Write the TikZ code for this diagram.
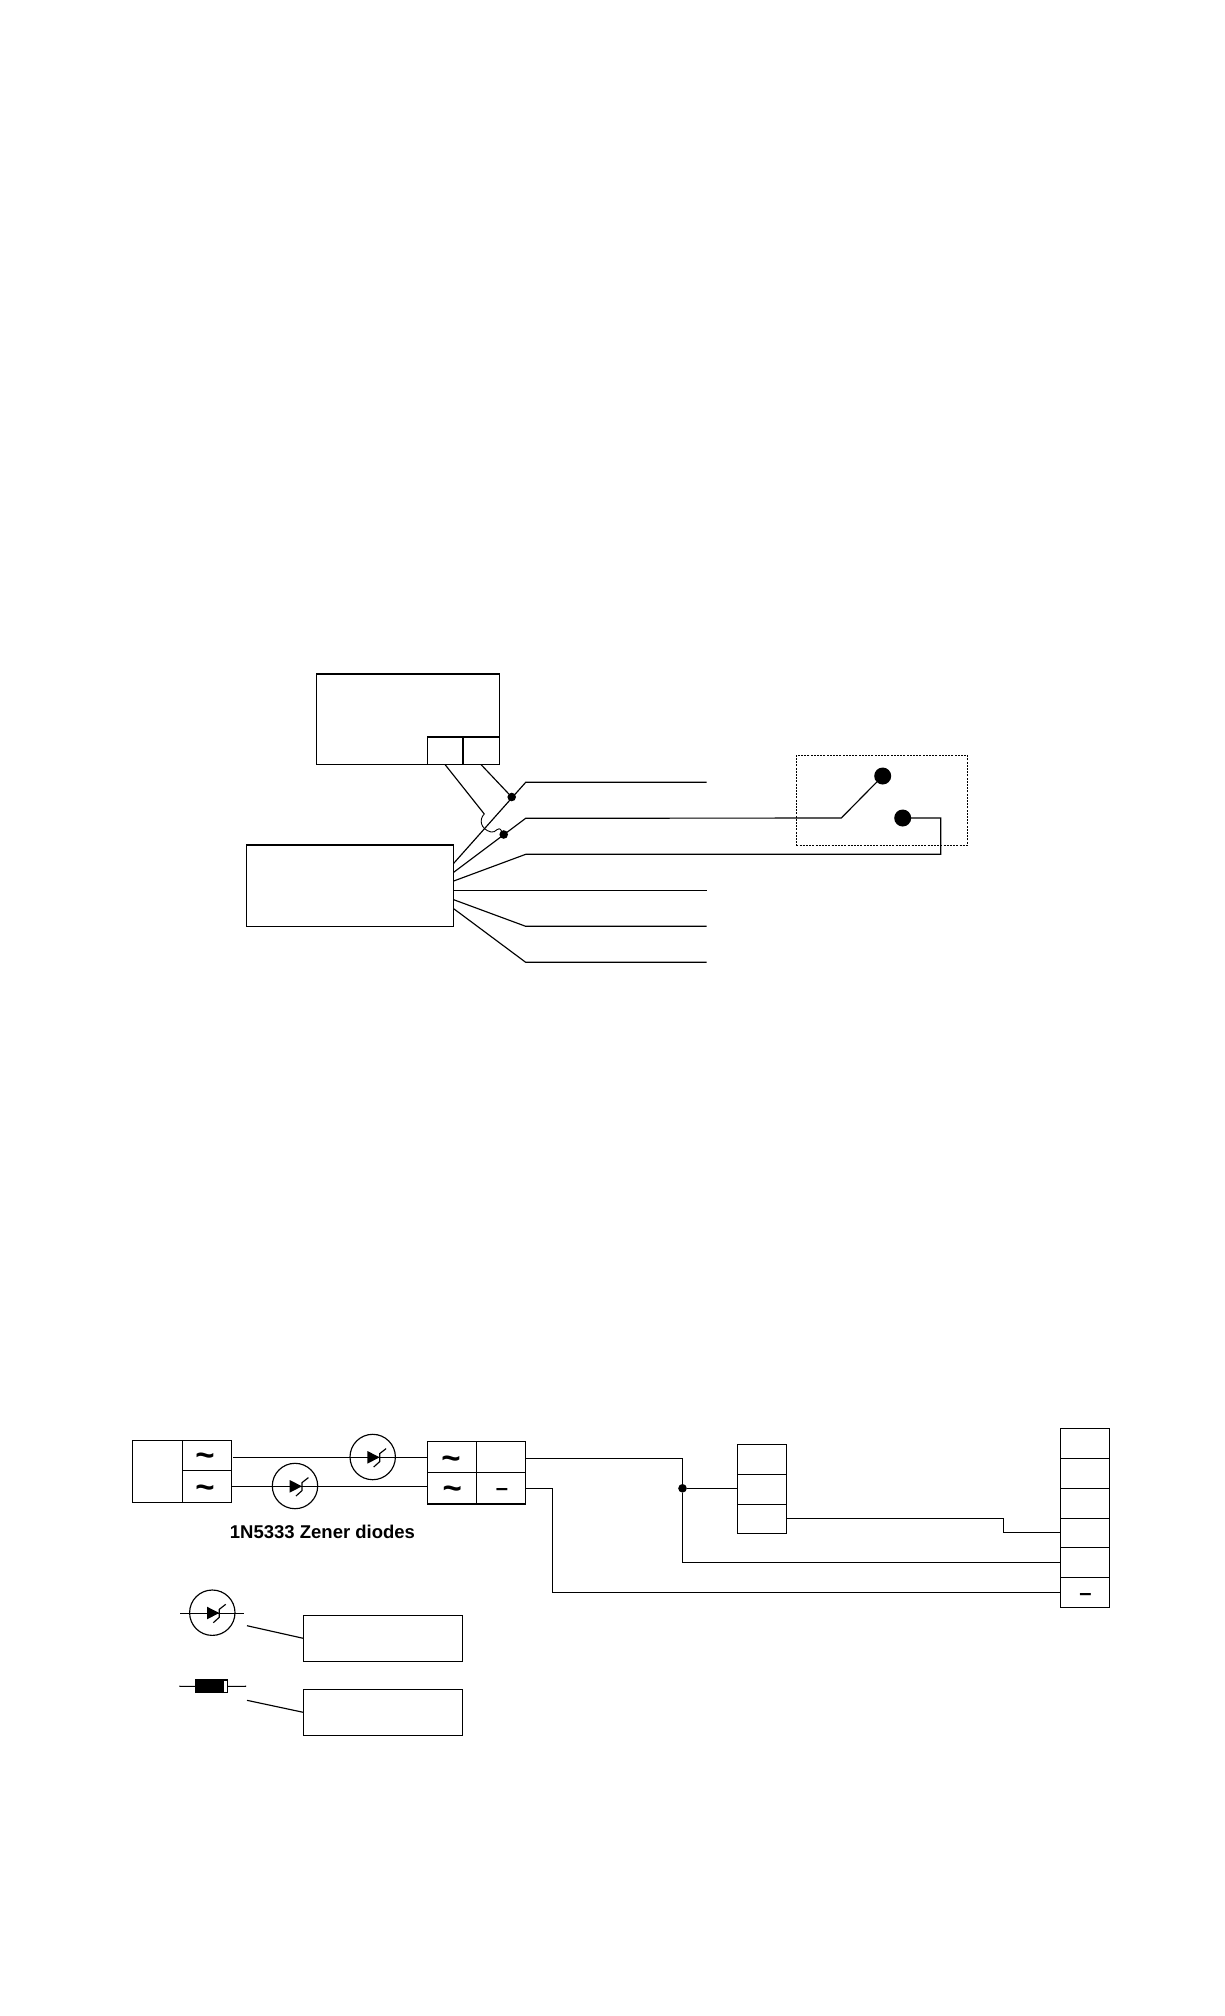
\documentclass[tikz,border=0pt]{standalone}
\usepackage{fontspec}
\setmainfont{Liberation Sans}
\tikzset{
    box/.style={draw, rectangle, inner sep=0pt, outer sep=0pt, anchor=north west},
    cellw/.style={box, minimum width=49pt, minimum height=#1},
    acsign/.style={font=\fontsize{33}{33}\selectfont\bfseries, inner sep=0pt},
    minussign/.style={font=\fontsize{22}{22}\selectfont\bfseries, inner sep=0pt},
    joint/.style={circle, fill=black, inner sep=0pt, outer sep=0pt, minimum size=8.6pt},
    contact/.style={circle, fill=black, inner sep=0pt, outer sep=0pt, minimum size=17pt},
    zener/.pic={
        \node[draw, circle, inner sep=0pt, minimum size=45.4pt] (-ring) at (0,0) {};
        \fill (-5.3,-6) -- (-5.3,6.6) -- (7,.3) -- cycle;
        \draw (13.4,-8.4) -- (7,-3.4) -- (7,4.6) -- (1,10);
    }
}
\begin{document}
\begin{tikzpicture}[x=1pt, y=-1pt, line width=1.15pt]
    \useasboundingbox (0,0) rectangle (1224,2016);
    % upper drawing
    \node[box, minimum width=183pt, minimum height=90.7pt] (unit) at (316.3,674) {};
    \node[box, minimum width=35.7pt, minimum height=27.7pt] (sock1) at (427.3,737) {};
    \node[box, minimum width=36.3pt, minimum height=27.7pt] (sock2) at (463,737) {};
    \node[box, minimum width=207pt, minimum height=81.3pt] (harness) at (246.7,845) {};
    \foreach \ys/\ye [count=\i] in {863.3/782.3,872.3/818.3,881/854.3,890.3/890.3,899.7/926.3,908.7/962.3}
    {
        \coordinate (out\i) at (453.7,\ys);
        \coordinate (bend\i) at (525.7,\ye);
        \coordinate (end\i) at (706.7,\ye);
    }
    \node[joint] (tie1) at (511.7,797) {};
    \node[joint] (tie2) at (503.7,834.5) {};
    \coordinate (hop) at (484.3,814);
    \foreach \i in {1,4,5,6}
    {
        \draw (out\i)--(bend\i)--(end\i);
    }
    \draw (sock2.south)--(tie1);
    \draw (sock1.south)--(hop);
    \draw[line width=.9pt] (hop) .. controls (479,819) and (480,829) .. (491,832) .. controls (496,833.5) and (498,825) .. (tie2);
    % switch
    \node[box, dash pattern=on 2pt off 1.2pt, line width=.9pt, minimum width=171pt, minimum height=90.3pt] (switch) at (796.3,755) {};
    \node[contact] (cont1) at (882.7,776) {};
    \node[contact] (cont2) at (902.7,818) {};
    \coordinate (pivot) at (841.3,818);
    \coordinate (loop) at (940.7,854.3);
    \draw (out2)--(bend2)--(pivot)--(cont1);
    \draw (out3)--(bend3)--(loop)|-(cont2);
    % lower drawing
    \node[box, minimum width=50pt, minimum height=62pt] (source) at (132.3,1440.3) {};
    \node[cellw=30pt] (acin1) at (182.3,1440.3) {};
    \node[cellw=32pt] (acin2) at (182.3,1470.3) {};
    \node[cellw=31pt] (acout1) at (427.3,1441.3) {};
    \node[cellw=31.7pt] (acout2) at (427.3,1472.3) {};
    \node[cellw=31pt] (plus) at (476.3,1441.3) {};
    \node[cellw=31.7pt] (minus) at (476.3,1472.3) {};
    \node[acsign] (wave1) at (205,1460) {\textasciitilde};
    \node[acsign] (wave2) at (205,1491.3) {\textasciitilde};
    \node[acsign] (wave3) at (451,1462.3) {\textasciitilde};
    \node[acsign] (wave4) at (452.3,1492.3) {\textasciitilde};
    \node[minussign] (neg1) at (502,1491.7) {\textendash};
    \coordinate (lead1) at (233.3,1457.3);
    \coordinate (lead2) at (231.3,1486.7);
    \draw (lead1)--(lead1 -| acout1.west);
    \draw (lead2)--(lead2 -| acout2.west);
    \pic (zd1) at (372.7,1457) {zener};
    \pic (zd2) at (295,1486) {zener};
    \node[font=\fontsize{18.5}{20}\selectfont\bfseries, inner sep=0pt] (diodes) at (322.5,1531.7) {1N5333 Zener diodes};
    % relay and terminal strip
    \foreach \y/\h [count=\i] in {1444.3/30pt,1474.3/30pt,1504.3/29pt}
    {
        \node[cellw=\h] (relay\i) at (737.3,\y) {};
    }
    \foreach \y/\h [count=\i] in {1428.3/30pt,1458.3/30pt,1488.3/30pt,1518.3/29pt,1547.3/30pt,1577.3/30pt}
    {
        \node[cellw=\h] (term\i) at (1060.3,\y) {};
    }
    \node[minussign] (neg2) at (1085.5,1597) {\textendash};
    \node[joint] (junc) at (682.5,1488.3) {};
    \coordinate (tap) at (682.5,1458.3);
    \coordinate (rail) at (552.4,1592.3);
    \coordinate (kink) at (1003.4,1532.8);
    \draw (tap -| plus.east)--(tap)--(junc)|-(term5.west);
    \draw (junc)--(junc -| relay2.west);
    \draw (minus.east)-|(rail)--(term6.west);
    \draw (relay3.east)-|(kink)--(term4.west);
    % legend
    \coordinate (zlead1) at (180,1613.3);
    \coordinate (zlead2) at (244.3,1613.3);
    \draw (zlead1)--(zlead2);
    \pic (zd3) at (212.3,1612.7) {zener};
    \node[box, minimum width=159.4pt, minimum height=46pt] (note1) at (303.3,1615.3) {};
    \node[box, minimum width=159.4pt, minimum height=46pt] (note2) at (303.3,1689.3) {};
    \coordinate (from1) at (247,1625.7);
    \coordinate (from2) at (247,1700.3);
    \draw (from1)--(note1.west);
    \draw (from2)--(note2.west);
    \node[box, fill=black, minimum width=27.7pt, minimum height=12.7pt] (body) at (196,1680) {};
    \node[box, fill=white, minimum width=4pt, minimum height=12.7pt] (band) at (223.7,1680) {};
    \coordinate (dlead1) at (179.3,1686.3);
    \coordinate (dlead2) at (246,1686.3);
    \draw (dlead1)--(body.west);
    \draw (band.east)--(dlead2);
\end{tikzpicture}
\end{document}
